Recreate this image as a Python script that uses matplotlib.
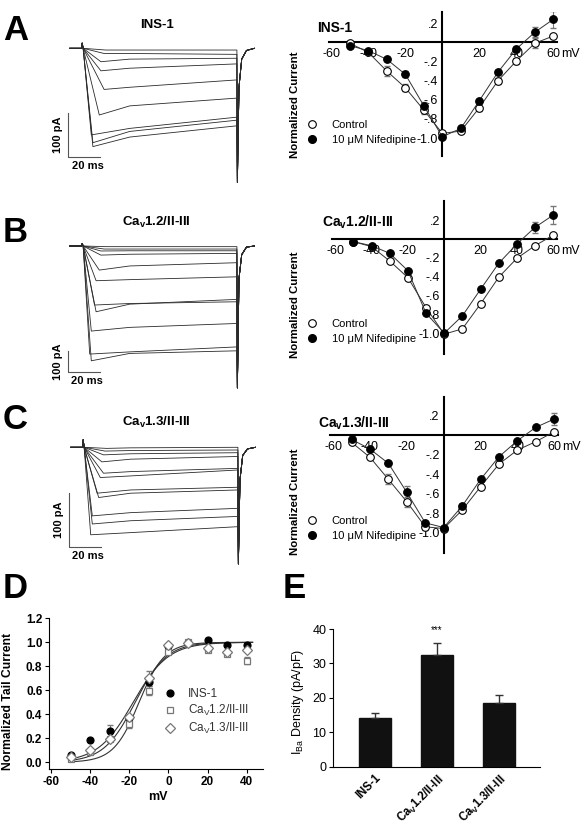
import numpy as np
import matplotlib
matplotlib.use('Agg')
import matplotlib.pyplot as plt
from matplotlib.lines import Line2D

plt.rcParams['font.family'] = ['Liberation Sans', 'DejaVu Sans']
plt.rcParams['mathtext.fontset'] = 'custom'
plt.rcParams['mathtext.rm'] = 'Liberation Sans'
plt.rcParams['mathtext.bf'] = 'Liberation Sans:bold'

# ---- current traces (pA), one entry per sweep: time of peak (ms), peak, value at 30 ms, value at end of step
ins_tpk = [15, 14, 12, 12, 14, 11, 6, 7, 7]
ins_pk = [-4, -12, -31, -52, -95, -154, -200, -218, -227]
ins_mid = [-4, -12, -25, -46, -90, -133, -185, -192, -205]
ins_end = [-4, -14, -23, -36, -73, -115, -159, -166, -179]

c12_tpk = [15, 14, 12, 12, 11, 9, 8, 9, 6, 5, 6]
c12_pk = [-3, -14, -23, -42, -111, -160, -272, -303, -392, -498, -529]
c12_mid = [-3, -14, -22, -38, -92, -155, -265, -268, -375, -488, -495]
c12_end = [-3, -14, -22, -34, -77, -142, -257, -246, -357, -465, -483]

c13_tpk = [15, 14, 13, 12, 13, 11, 9, 10, 6, 6, 5]
c13_pk = [-2, -7, -14, -27, -48, -56, -85, -93, -127, -142, -162]
c13_mid = [-1, -6, -12, -22, -45, -53, -79, -85, -121, -136, -158]
c13_end = [0, -5, -10, -17, -39, -42, -74, -79, -113, -128, -147]

# capacitive blip at step onset and tail spike after the step (pA)
tail_t = [97.3, 98.3, 100, 103]
ins_cap, ins_tail = 12, [-310, -90, -25, -5]
c12_cap, c12_tail = 12, [-654, -150, -40, -5]
c13_cap, c13_tail = 14, [-216, -60, -15, -3]

# ---- normalized I-V curves
volts = [-50, -40, -30, -20, -10, 0, 10, 20, 30, 40, 50, 60]
ins_ctrl = [-0.01, -0.105, -0.30, -0.474, -0.707, -0.95, -0.927, -0.683, -0.404, -0.195, -0.01, 0.066]
ins_ctrl_err = [0, 0, 0.05, 0.035, 0.04, 0.02, 0, 0.035, 0.03, 0.03, 0.05, 0]
ins_nif = [-0.035, -0.087, -0.178, -0.334, -0.662, -0.986, -0.899, -0.61, -0.314, -0.07, 0.105, 0.24]
ins_nif_err = [0, 0, 0.02, 0.03, 0.04, 0, 0, 0.02, 0.02, 0.035, 0.05, 0.09]

c12_ctrl = [-0.028, -0.081, -0.233, -0.41, -0.728, -1.01, -0.954, -0.689, -0.406, -0.205, -0.071, 0.042]
c12_ctrl_err = [0, 0, 0, 0, 0, 0, 0, 0, 0, 0, 0, 0]
c12_nif = [-0.028, -0.071, -0.152, -0.336, -0.788, -1.0, -0.816, -0.534, -0.258, -0.053, 0.124, 0.254]
c12_nif_err = [0, 0, 0, 0, 0, 0, 0, 0, 0, 0, 0.06, 0.1]

c13_ctrl = [-0.075, -0.229, -0.455, -0.685, -0.942, -0.959, -0.771, -0.531, -0.298, -0.154, -0.068, 0.034]
c13_ctrl_err = [0, 0, 0.05, 0.05, 0.03, 0, 0.02, 0, 0, 0, 0, 0]
c13_nif = [-0.045, -0.144, -0.291, -0.589, -0.901, -0.949, -0.729, -0.455, -0.223, -0.058, 0.079, 0.164]
c13_nif_err = [0, 0, 0.02, 0.07, 0, 0, 0.02, 0, 0, 0, 0, 0.06]

# ---- tail current activation
tail_v = [-50, -40, -30, -20, -10, 0, 10, 20, 30, 40]
tail_ins = [0.065, 0.186, 0.264, 0.372, 0.672, 0.97, 0.99, 1.02, 0.98, 0.98]
tail_ins_err = [0, 0, 0.05, 0.02, 0.02, 0, 0, 0, 0, 0]
tail_c12 = [0.025, 0.083, 0.194, 0.317, 0.597, 0.922, 1.0, 0.936, 0.9, 0.847]
tail_c12_err = [0, 0, 0, 0.03, 0.04, 0, 0, 0, 0, 0.03]
tail_c13 = [0.042, 0.103, 0.194, 0.38, 0.70, 0.978, 0.99, 0.956, 0.922, 0.936]
tail_c13_err = [0, 0, 0, 0, 0.06, 0, 0, 0, 0, 0]
fit_vhalf = [-18, -15, -17]   # Boltzmann fits: INS-1, Cav1.2, Cav1.3
fit_k = [9, 6.5, 8]

# ---- current density
cells = ['INS-1', r'Ca$_\mathregular{V}$1.2/II-III', r'Ca$_\mathregular{V}$1.3/II-III']
density = [14.2, 32.4, 18.4]
density_err = [1.5, 3.6, 2.4]

W, H = 581, 825
fig = plt.figure(figsize=(W / 100, H / 100), dpi=100)


def px_axes(xlim, ylim, x_org, x_sc, y_org, y_sc):
    # axes placed so that data maps onto reference pixels
    x0 = x_org + xlim[0] * x_sc
    x1 = x_org + xlim[1] * x_sc
    y0 = y_org - ylim[1] * y_sc
    y1 = y_org - ylim[0] * y_sc
    ax = fig.add_axes([x0 / W, 1 - y1 / H, (x1 - x0) / W, (y1 - y0) / H])
    ax.set_xlim(xlim)
    ax.set_ylim(ylim)
    return ax


def ftext(x, y, s, **kw):
    fig.text(x / W, 1 - y / H, s, **kw)


def traces(ylim, x_org, y_org, y_sc, tpk, pk, mid, end, cap, tail, bar_t, bar_y):
    ax = px_axes((-12, 112), ylim, x_org, 1.6, y_org, y_sc)
    ax.axis('off')
    for j in range(len(pk)):
        t = [-7.5, 0, 0.3, 0.9, tpk[j], 30, 97] + tail_t + [108]
        i = [0, 0, cap, 0, pk[j], mid[j], end[j]] + tail + [0]
        ax.plot(t, i, color='#2a2a2a', lw=0.6)
    ax.plot([bar_t, bar_t, bar_t + 20], [bar_y + 100, bar_y, bar_y], color='#555555', lw=0.8)
    ax.annotate('100 pA', (bar_t, bar_y + 50), xytext=(-4, 0), textcoords='offset points',
                rotation=90, ha='right', va='center', fontsize=8, fontweight='bold')
    ax.annotate('20 ms', (bar_t + 12, bar_y), xytext=(0, -3), textcoords='offset points',
                ha='center', va='top', fontsize=8, fontweight='bold')


def iv(ylim, x_org, x_sc, y_org, y_sc, ctrl, ectrl, nif, enif, leg_y):
    ax = px_axes((-61.5, 62), ylim, x_org, x_sc, y_org, y_sc)
    for side in ['top', 'right']:
        ax.spines[side].set_visible(False)
    for side in ['left', 'bottom']:
        ax.spines[side].set_position(('data', 0))
        ax.spines[side].set_linewidth(1.5)
    ax.set_xticks([-60, -40, -20, 20, 40, 60])
    ax.set_xticklabels(['-60', '-40', '-20', '20', '40', '60'])
    ax.set_yticks([-1.0, -0.8, -0.6, -0.4, -0.2, 0.2])
    ax.set_yticklabels(['-1.0', '-.8', '-.6', '-.4', '-.2', '.2'])
    ax.tick_params(length=0, labelsize=9, pad=3)
    ax.tick_params(axis='x', pad=4)
    ax.annotate('mV', (60, 0), xytext=(5.5, -4), textcoords='offset points',
                ha='left', va='top', fontsize=9)
    v = np.array(volts)
    for y, e, fc in [(ctrl, ectrl, 'white'), (nif, enif, 'black')]:
        y = np.array(y)
        e = np.array(e)
        m = e > 0
        ax.errorbar(v[m], y[m], yerr=e[m], fmt='none', ecolor='#777777', elinewidth=0.8, capsize=2, zorder=2)
        ax.plot(v, y, color='#333333', lw=0.7, marker='o', ms=5.5, mfc=fc, mec='black', mew=0.8,
                zorder=3, clip_on=False)
    h = [Line2D([], [], ls='none', marker='o', ms=5.5, mfc='white', mec='black', mew=0.8),
         Line2D([], [], ls='none', marker='o', ms=5.5, mfc='black', mec='black')]
    ax.legend(h, ['Control', '10 μM Nifedipine'], loc='upper left', bbox_to_anchor=(306 / W, 1 - leg_y / H),
              bbox_transform=fig.transFigure, frameon=False, fontsize=8, handlelength=1,
              handletextpad=1.3, labelspacing=0.45, borderpad=0, borderaxespad=0)
    return ax


# ---- panel letters and titles
for s, x, y in [('A', 3, 30), ('B', 3, 232), ('C', 3, 420), ('D', 3, 589), ('E', 283, 589)]:
    ftext(x, y, s, fontsize=25, fontweight='bold', va='center', ha='left')

ftext(156.7, 25, 'INS-1', fontsize=9.5, fontweight='bold', ha='center', va='center')
ftext(156.7, 222, r'Ca$_\mathbf{v}$1.2/II-III', fontsize=9.5, fontweight='bold', ha='center', va='center')
ftext(156.7, 422, r'Ca$_\mathbf{v}$1.3/II-III', fontsize=9.5, fontweight='bold', ha='center', va='center')

ftext(317, 28, 'INS-1', fontsize=10, fontweight='bold', ha='left', va='center')
ftext(321.7, 222, r'Ca$_\mathbf{v}$1.2/II-III', fontsize=10, fontweight='bold', ha='left', va='center')
ftext(318.3, 423, r'Ca$_\mathbf{v}$1.3/II-III', fontsize=10, fontweight='bold', ha='left', va='center')

for y in [105, 305, 502]:
    ftext(295, y, 'Normalized Current', rotation=90, fontsize=8.2, fontweight='bold', ha='center', va='center')

# ---- A, B, C traces
traces((-330, 40), 81.7, 48.3, 0.433, ins_tpk, ins_pk, ins_mid, ins_end, ins_cap, ins_tail, -8.4, -250)
traces((-680, 60), 81.7, 246, 0.217, c12_tpk, c12_pk, c12_mid, c12_end, c12_cap, c12_tail, -8.5, -582)
traces((-230, 30), 82.7, 447.3, 0.54, c13_tpk, c13_pk, c13_mid, c13_end, c13_cap, c13_tail, -8.5, -184)

# ---- A, B, C I-V
iv((-1.19, 0.32), 442.3, 1.85, 42.3, 95.8, ins_ctrl, ins_ctrl_err, ins_nif, ins_nif_err, 120)
iv((-1.22, 0.4), 444.2, 1.817, 239, 94.2, c12_ctrl, c12_ctrl_err, c12_nif, c12_nif_err, 319)
iv((-1.21, 0.39), 443.7, 1.843, 435, 97.5, c13_ctrl, c13_ctrl_err, c13_nif, c13_nif_err, 516)

# ---- D
axd = px_axes((-60.9, 48.5), (-0.056, 1.2), 51 + 60 * 1.957, 1.957, 762.3, 120)
for side in ['top', 'right']:
    axd.spines[side].set_visible(False)
axd.set_xticks([-60, -40, -20, 0, 20, 40])
axd.set_yticks([0, 0.2, 0.4, 0.6, 0.8, 1.0, 1.2])
axd.set_yticklabels(['0.0', '0.2', '0.4', '0.6', '0.8', '1.0', '1.2'])
axd.set_xticklabels(['-60', '-40', '-20', '0', '20', '40'])
axd.tick_params(direction='out', length=3, width=0.8, labelsize=8.5, pad=2)
for lab in axd.get_xticklabels() + axd.get_yticklabels():
    lab.set_fontweight('bold')
vv = np.linspace(-51, 43, 200)
for vh, k in zip(fit_vhalf, fit_k):
    axd.plot(vv, 1 / (1 + np.exp((vh - vv) / k)), color='#333333', lw=0.8)
tv = np.array(tail_v)
styles = [(tail_ins, tail_ins_err, 'o', 'black', 'black', 5),
          (tail_c12, tail_c12_err, 's', 'white', '#777777', 5),
          (tail_c13, tail_c13_err, 'D', 'white', '#777777', 5)]
hd = []
for y, e, mk, fc, ec, ms in styles:
    y = np.array(y)
    e = np.array(e)
    m = e > 0
    axd.errorbar(tv[m], y[m], yerr=e[m], fmt='none', ecolor='#777777', elinewidth=0.8, capsize=2)
    axd.plot(tv, y, ls='none', marker=mk, ms=ms, mfc=fc, mec=ec, mew=0.9, zorder=3)
    hd.append(Line2D([], [], ls='none', marker=mk, ms=ms, mfc=fc, mec=ec, mew=0.9))
leg = axd.legend(hd, cells, loc='upper left', bbox_to_anchor=(164.5 / W, 1 - 688 / H),
                 bbox_transform=fig.transFigure, frameon=False, fontsize=8.5, handlelength=1,
                 handletextpad=1.0, labelspacing=0.25, borderpad=0, borderaxespad=0)
for t in leg.get_texts():
    t.set_color('#333333')
ftext(158, 797, 'mV', fontsize=9, fontweight='bold', ha='center', va='center')
ftext(8.3, 701, 'Normalized Tail Current', rotation=90, fontsize=8.7, fontweight='bold', ha='center', va='center')

# ---- E
axe = px_axes((-0.67, 2.66), (0, 40), 375, 62, 766.7, 137.7 / 40)
for side in ['top', 'right']:
    axe.spines[side].set_visible(False)
xe = np.arange(len(cells))
axe.bar(xe, density, width=0.51, color='#111111', edgecolor='#111111')
axe.errorbar(xe, density, yerr=[np.zeros(len(xe)), density_err], fmt='none', ecolor='#333333',
             elinewidth=1, capsize=3)
axe.text(1, 38.2, '***', ha='center', va='bottom', fontsize=7)
axe.set_yticks([0, 10, 20, 30, 40])
axe.set_xticks(xe)
axe.set_xticklabels(cells, rotation=45, ha='right', rotation_mode='anchor', fontweight='bold')
axe.tick_params(axis='y', direction='out', length=3, labelsize=9, pad=2)
axe.tick_params(axis='x', length=0, labelsize=8.3, pad=4)
ftext(298, 701.7, r'I$_\mathregular{Ba}$ Density (pA/pF)', rotation=90, fontsize=9, ha='center', va='center')

fig.savefig('out.png', dpi=100)
